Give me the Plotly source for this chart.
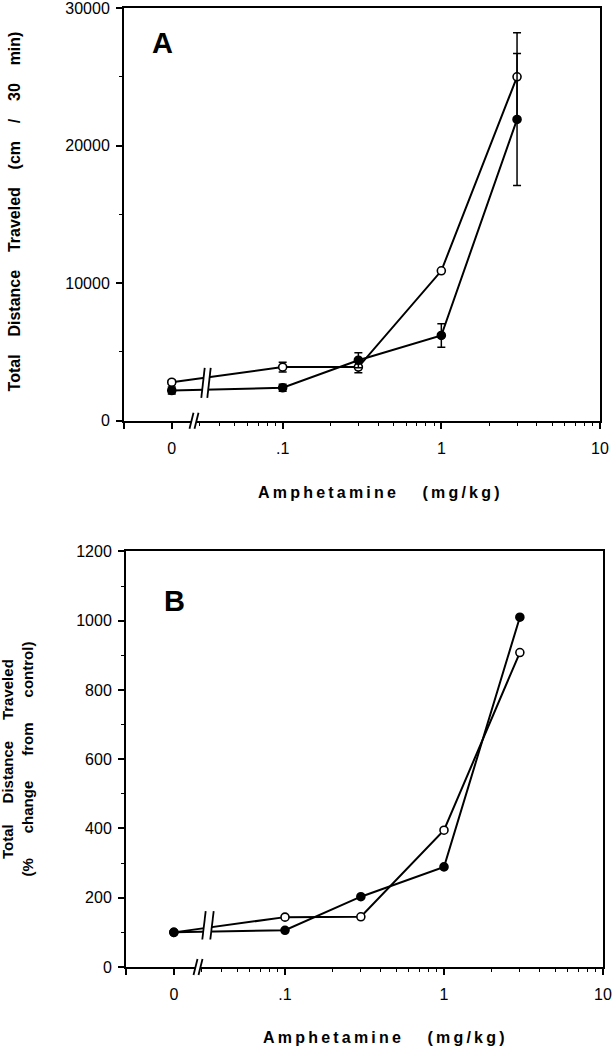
import plotly.graph_objects as go

# ---------------- data ----------------
# dose axis: the vehicle ("0") dose is drawn at 0.02 on the log axis
dose = [0.02, 0.1, 0.3, 1, 3]
dose_tickvals = [0.01, 0.02, 0.1, 1, 10]
dose_ticktext = ["", "0", ".1", "1", "10"]
dose_minor = [0.03, 0.04, 0.05, 0.06, 0.07, 0.08, 0.09,
              0.2, 0.3, 0.4, 0.5, 0.6, 0.7, 0.8, 0.9,
              2, 3, 4, 5, 6, 7, 8, 9]

# Panel A: total distance traveled (cm / 30 min)
a_open = [2800, 3900, 3900, 10900, 25000]
a_open_err = [150, 350, 400, 0, 3200]
a_filled = [2200, 2400, 4400, 6200, 21900]
a_filled_err = [250, 250, 550, 850, 4800]
a_yticks = [0, 10000, 20000, 30000]
a_yticktext = ["0", "10000", "20000", "30000"]

# Panel B: % change from control
b_open = [100, 144, 145, 395, 908]
b_filled = [100, 106, 203, 289, 1010]
b_yticks = [0, 200, 400, 600, 800, 1000, 1200]
b_yticktext = ["0", "200", "400", "600", "800", "1000", "1200"]

# ---------------- layout helpers ----------------
W, H = 612, 1048
ML, MR, MT, MB = 124, 9, 8, 80.5
PW, PH = W - ML - MR, H - MT - MB


def px(xp):
    return (xp - ML) / PW


def py(yp):
    return (H - MB - yp) / PH


FONT = "Liberation Sans, Arial, sans-serif"
NB = "\u00a0"
TS = "\u2009"

fig = go.Figure()

marker_open = dict(symbol="circle", size=8, color="white", line=dict(color="black", width=1.6))
marker_filled = dict(symbol="circle", size=8, color="black", line=dict(color="black", width=1.6))
err = dict(type="data", thickness=1.5, width=4, color="black")

fig.add_trace(go.Scatter(x=dose, y=a_open, mode="lines+markers", xaxis="x", yaxis="y",
                         line=dict(color="black", width=2), marker=marker_open,
                         error_y=dict(err, array=a_open_err), showlegend=False))
fig.add_trace(go.Scatter(x=dose, y=a_filled, mode="lines+markers", xaxis="x", yaxis="y",
                         line=dict(color="black", width=2), marker=marker_filled,
                         error_y=dict(err, array=a_filled_err), showlegend=False))
fig.add_trace(go.Scatter(x=dose, y=b_open, mode="lines+markers", xaxis="x2", yaxis="y2",
                         line=dict(color="black", width=2), marker=marker_open, showlegend=False))
fig.add_trace(go.Scatter(x=dose, y=b_filled, mode="lines+markers", xaxis="x2", yaxis="y2",
                         line=dict(color="black", width=2), marker=marker_filled, showlegend=False))

TICKFONT = dict(family=FONT, size=16, color="black")
xcommon = dict(type="log", range=[-2, 1], tickmode="array", tickvals=dose_tickvals,
               ticktext=dose_ticktext, ticks="outside", ticklen=6, tickwidth=1.5,
               tickcolor="black", showline=True, linecolor="black", linewidth=2,
               mirror=True, showgrid=False, zeroline=False, automargin=False,
               ticklabeloverflow="allow",
               tickfont=TICKFONT, ticklabelstandoff=6,
               minor=dict(tickmode="array", tickvals=dose_minor, ticks="outside",
                          ticklen=3, tickwidth=1.2, tickcolor="black", showgrid=False))
ycommon = dict(ticks="outside", ticklen=6, tickwidth=1.5, tickcolor="black",
               showline=True, linecolor="black", linewidth=2, mirror=True,
               showgrid=False, zeroline=False, tickmode="array", automargin=False,
               ticklabeloverflow="allow",
               tickfont=TICKFONT, ticklabelstandoff=3)

fig.update_layout(
    width=W, height=H, margin=dict(l=ML, r=MR, t=MT, b=MB, autoexpand=False),
    paper_bgcolor="white", plot_bgcolor="white", showlegend=False,
    xaxis=dict(xcommon, domain=[0, (600 - ML) / PW], anchor="y"),
    yaxis=dict(ycommon, domain=[py(421), 1], range=[0, 30000], tickvals=a_yticks,
               ticktext=a_yticktext,
               minor=dict(dtick=5000, ticks="outside", ticklen=3, tickwidth=1.2,
                          tickcolor="black", showgrid=False), anchor="x"),
    xaxis2=dict(xcommon, domain=[px(126), 1], anchor="y2"),
    yaxis2=dict(ycommon, domain=[0, py(551.7)], range=[0, 1200], tickvals=b_yticks,
                ticktext=b_yticktext,
                minor=dict(dtick=100, ticks="outside", ticklen=3, tickwidth=1.2,
                           tickcolor="black", showgrid=False), anchor="x2"),
)

# ---------------- text ----------------
def spaced(words, n):
    return (NB * n).join(words)


def letterspaced(s):
    return TS.join(list(s))


ann = []
ann.append(dict(text="<b>A</b>", x=px(162), y=py(43), font=dict(family=FONT, size=29)))
ann.append(dict(text="<b>B</b>", x=px(174.5), y=py(601.7), font=dict(family=FONT, size=29)))
ann.append(dict(text="<b>" + spaced(["Total", "Distance", "Traveled", "(cm", "/", "30", "min)"], 4) + "</b>",
                x=px(14.5), y=py(212), textangle=-90, font=dict(family=FONT, size=16)))
ann.append(dict(text="<b>" + spaced(["Total", "Distance", "Traveled"], 5) + "<br>" +
                spaced(["(%", "change", "from", "control)"], 6) + "</b>",
                x=px(18), y=py(760), textangle=-90, font=dict(family=FONT, size=15)))
xt = "<b>" + letterspaced("Amphetamine") + NB * 6 + letterspaced("(mg/kg)") + "</b>"
ann.append(dict(text=xt, x=px(379), y=py(493), font=dict(family=FONT, size=16)))
ann.append(dict(text=xt, x=px(384), y=py(1038), font=dict(family=FONT, size=16)))
for a in ann:
    a.update(xref="paper", yref="paper", showarrow=False, xanchor="center", yanchor="middle")
    a["font"]["color"] = "black"
fig.update_layout(annotations=ann)

# ---------------- axis / line breaks ----------------
shapes = []


def add_break(xr, yr, c, half, slant, y0, y1):
    shapes.append(dict(type="rect", xref=xr, yref=yr, x0=c - half, x1=c + half, y0=y0, y1=y1,
                       fillcolor="white", line=dict(width=0), layer="above"))
    for cx in (c - half, c + half):
        shapes.append(dict(type="line", xref=xr, yref=yr, x0=cx - slant, x1=cx + slant,
                           y0=y0, y1=y1, line=dict(color="black", width=1.8), layer="above"))


# panel A
wA, hA = 476, 413
add_break("x domain", "y domain", 82 / wA, 3 / wA, 1.7 / wA, 23 / hA, 53 / hA)
add_break("x domain", "y domain", 70 / wA, 2.5 / wA, 2 / wA, -8 / hA, 8 / hA)
# panel B
wB, hB = 477, 415.8
add_break("x2 domain", "y2 domain", 82 / wB, 4 / wB, 1.7 / wB, 27.5 / hB, 55.8 / hB)
add_break("x2 domain", "y2 domain", 72 / wB, 2.5 / wB, 2 / wB, -8 / hB, 8 / hB)

fig.update_layout(shapes=shapes)

post = ("document.documentElement.style.margin='0';document.body.style.margin='0';"
        "document.body.style.padding='0';document.documentElement.style.overflow='hidden';"
        "var d=document.getElementById('{plot_id}');"
        "d.style.position='fixed';d.style.top='0px';d.style.left='0px';")
fig.write_html("out.html", config={"displayModeBar": False}, post_script=post)
